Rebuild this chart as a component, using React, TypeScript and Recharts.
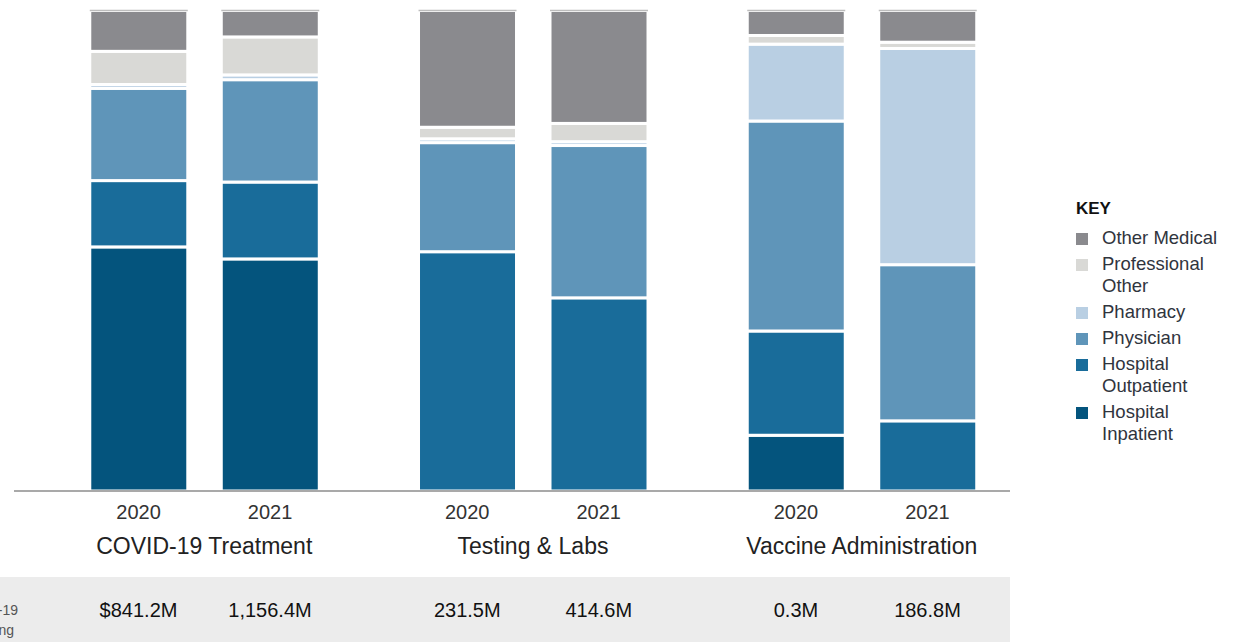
import React from 'react'
import { BarChart, Bar, XAxis, YAxis, Legend } from 'recharts'

const FONT = '"Liberation Sans", Arial, Helvetica, sans-serif'

// groups on the x axis, and where each bar sits (gap of 3 units between groups)
const groups = ['COVID-19 Treatment', 'Testing & Labs', 'Vaccine Administration']
const groupPositions = [1, 6, 11]
const years = ['2020', '2021', '2020', '2021', '2020', '2021']
const positions = [0, 2, 5, 7, 10, 12]
const totals = ['$841.2M', '1,156.4M', '231.5M', '414.6M', '0.3M', '186.8M']

// share of spending, percent of each bar
const hospitalInpatient = [50.8, 48.3, 0, 0, 11.6, 0]
const hospitalOutpatient = [13.8, 16.0, 49.8, 40.2, 21.7, 14.6]
const physician = [19.2, 21.3, 22.7, 31.7, 43.7, 32.5]
const pharmacy = [0.8, 1.0, 0.8, 0.8, 16.0, 45.0]
const professionalOther = [6.9, 7.9, 2.4, 3.8, 1.8, 1.3]
const otherMedical = [8.5, 5.5, 24.3, 23.5, 5.2, 6.6]

const series = [
  { key: 'inpatient', name: 'Hospital Inpatient', color: '#04547d', values: hospitalInpatient },
  { key: 'outpatient', name: 'Hospital Outpatient', color: '#196c9a', values: hospitalOutpatient },
  { key: 'physician', name: 'Physician', color: '#5f95b9', values: physician },
  { key: 'pharmacy', name: 'Pharmacy', color: '#b9cfe3', values: pharmacy },
  { key: 'profOther', name: 'Professional Other', color: '#d9d9d6', values: professionalOther },
  { key: 'otherMedical', name: 'Other Medical', color: '#8a8a8e', values: otherMedical },
]

const data = positions.map((pos, i) => {
  const row: Record<string, number | string> = { pos, year: years[i] }
  series.forEach(s => { row[s.key] = s.values[i] })
  return row
})

const makeShape = (fill: string, topLine: boolean) => (props: any) => {
  const { x, y, width, height } = props
  if (!height || height <= 0) return <g />
  return (
    <g>
      <rect x={x} y={y} width={width} height={height} fill={fill} stroke="#ffffff" strokeWidth={3} />
      {topLine && (
        <line x1={x} x2={x + width} y1={y} y2={y} stroke="#bdbdbd" strokeWidth={1.5} />
      )}
    </g>
  )
}

const KeyLegend = () => (
  <div style={{ fontFamily: FONT, width: 161 }}>
    <div style={{ fontWeight: 'bold', fontSize: 17, lineHeight: '22px', color: '#111', marginBottom: 7 }}>KEY</div>
    {[...series].reverse().map(s => (
      <div key={s.key} style={{ display: 'flex', alignItems: 'flex-start', marginBottom: 4 }}>
        <span style={{ width: 12, height: 12, background: s.color, marginTop: 6, marginRight: 14, flexShrink: 0 }} />
        <span style={{ fontSize: 18.5, lineHeight: '22px', color: '#30343d', width: 132 }}>{s.name}</span>
      </div>
    ))}
  </div>
)

const App = () => {
  const domain: [number, number] = [-1.894, 13.255]
  return (
    <div style={{ position: 'absolute', left: 0, top: 0, width: 1237, height: 642, overflow: 'hidden', fontFamily: FONT, background: '#ffffff' }}>
      <div style={{ position: 'absolute', left: 0, top: 577, width: 1010, height: 65, background: '#ececec' }} />
      <div style={{ position: 'absolute', right: 1237 - 18, top: 600, fontSize: 14, lineHeight: '20px', color: '#555', whiteSpace: 'nowrap', textAlign: 'right' }}>
        <div>COVID-19</div>
        <div style={{ marginRight: 4 }}>Spending</div>
      </div>
      <div style={{ position: 'absolute', left: 0, top: 0 }}>
        <BarChart width={1237} height={642} data={data} margin={{ top: 10.5, right: 227, left: 14, bottom: 15 }}>
          <YAxis hide domain={[0, 100]} type="number" />
          <XAxis
            xAxisId="a_year"
            type="number"
            dataKey="pos"
            domain={domain}
            allowDataOverflow
            ticks={positions}
            interval={0}
            height={36}
            tickSize={0}
            tickMargin={14}
            tickLine={false}
            axisLine={{ stroke: '#a9a9a9', strokeWidth: 2 }}
            tick={{ fill: '#333333', fontSize: 20 }}
            tickFormatter={(v: number) => years[positions.indexOf(v)]}
          />
          <XAxis
            xAxisId="b_group"
            type="number"
            dataKey="pos"
            domain={domain}
            allowDataOverflow
            ticks={groupPositions}
            interval={0}
            height={40}
            tickSize={0}
            tickMargin={11}
            tickLine={false}
            axisLine={false}
            tick={{ fill: '#222222', fontSize: 23 }}
            tickFormatter={(v: number) => groups[groupPositions.indexOf(v)]}
          />
          <XAxis
            xAxisId="c_total"
            type="number"
            dataKey="pos"
            domain={domain}
            allowDataOverflow
            ticks={positions}
            interval={0}
            height={60}
            tickSize={0}
            tickMargin={36}
            tickLine={false}
            axisLine={false}
            tick={{ fill: '#111111', fontSize: 20 }}
            tickFormatter={(v: number) => totals[positions.indexOf(v)]}
          />
          {series.map((s, i) => (
            <Bar
              key={s.key}
              xAxisId="a_year"
              dataKey={s.key}
              name={s.name}
              stackId="a"
              fill={s.color}
              barSize={98}
              isAnimationActive={false}
              shape={makeShape(s.color, i === series.length - 1)}
            />
          ))}
          <Legend
            layout="horizontal"
            verticalAlign="middle"
            align="center"
            width={161}
            wrapperStyle={{ left: 1076, top: 198, width: 161 }}
            content={KeyLegend}
          />
        </BarChart>
      </div>
    </div>
  )
}

export default App
